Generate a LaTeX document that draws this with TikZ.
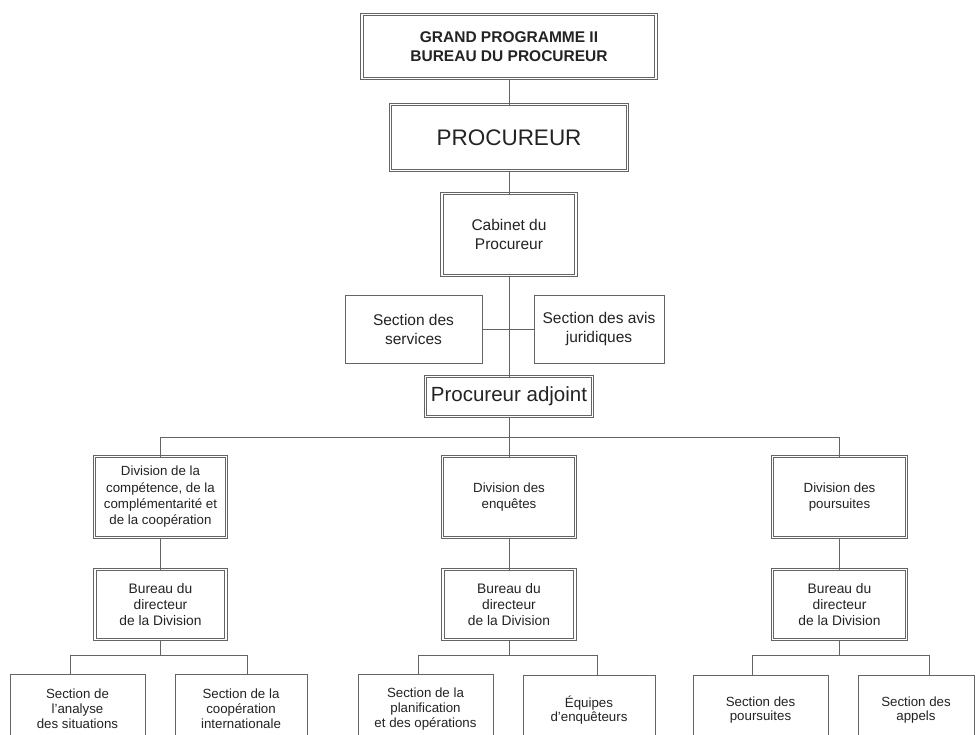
\documentclass[tikz,border=0pt]{standalone}
\usepackage{fontspec}
\setmainfont{Liberation Sans}
\definecolor{linec}{RGB}{100,100,100}
\definecolor{txtc}{RGB}{35,35,35}
\begin{document}
\begin{tikzpicture}[x=1pt,y=-1pt,
  every node/.style={text=txtc, align=center, inner sep=0pt, outer sep=0pt},
  dbox/.style={draw=linec, double=white, double distance=1.5pt, line width=0.85pt, rectangle},
  sbox/.style={draw=linec, line width=0.9pt, rectangle},
  conn/.style={draw=linec, line width=1pt},
  fbig/.style={font=\fontsize{22.5}{26}\selectfont},
  ftop/.style={font=\fontsize{15.5}{19}\selectfont\bfseries},
  fmid/.style={font=\fontsize{15.5}{19}\selectfont},
  fadj/.style={font=\fontsize{20.5}{24}\selectfont},
  fdiv/.style={font=\fontsize{13.3}{16.3}\selectfont},
  fbur/.style={font=\fontsize{13.8}{16}\selectfont},
  fbot/.style={font=\fontsize{13.3}{14.8}\selectfont}
]
\useasboundingbox (0,0) rectangle (976,734);
\clip (0,0) rectangle (976,734);
\fill[white] (0,0) rectangle (976,734);

% top levels
\node[dbox, ftop, minimum width=294, minimum height=64] (top) at (509,46.5) {GRAND PROGRAMME II\\BUREAU DU PROCUREUR};
\node[dbox, fbig, minimum width=237, minimum height=66] (proc) at (509,137.5) {PROCUREUR};
\node[dbox, fmid, minimum width=134, minimum height=82] (cab) at (509,234.5) {Cabinet du\\Procureur};
\node[sbox, fmid, minimum width=137, minimum height=68] (serv) at (413.5,329) {Section des\\services};
\node[sbox, fmid, minimum width=130, minimum height=68] (avis) at (599,329) {Section des avis\\juridiques};
\node[dbox, fadj, minimum width=167, minimum height=40] (adj) at (509,396.5) {Procureur adjoint};

% divisions
\node[dbox, fdiv, minimum width=132, minimum height=81] (ldiv) at (160.5,497) {Division de la\\compétence, de la\\complémentarité et\\de la coopération};
\node[dbox, fdiv, minimum width=133, minimum height=81] (mdiv) at (509,497) {Division des\\enquêtes};
\node[dbox, fdiv, minimum width=134, minimum height=81] (rdiv) at (839.5,497) {Division des\\poursuites};

% bureaux
\node[dbox, fbur, minimum width=131, minimum height=70] (lbur) at (160.5,604.5) {Bureau du\\directeur\\de la Division};
\node[dbox, fbur, minimum width=132, minimum height=70] (mbur) at (509,604.5) {Bureau du\\directeur\\de la Division};
\node[dbox, fbur, minimum width=134, minimum height=70] (rbur) at (839.5,604.5) {Bureau du\\directeur\\de la Division};

% sections
\node[sbox, fbot, minimum width=135, minimum height=70] (lsa) at (77.5,709) {Section de\\l'analyse\\des situations};
\node[sbox, fbot, minimum width=132, minimum height=70] (lsb) at (241,709) {Section de la\\coopération\\internationale};
\node[sbox, fbot, minimum width=135, minimum height=70] (msa) at (425.5,709) {Section de la\\planification\\et des opérations};
\node[sbox, fbot, minimum width=132, minimum height=70] (msb) at (589,710) {Équipes\\d'enquêteurs};
\node[sbox, fbot, minimum width=135, minimum height=70] (rsa) at (760.5,710) {Section des\\poursuites};
\node[sbox, fbot, minimum width=116, minimum height=70] (rsb) at (916,710) {Section des\\appels};

% connectors
\draw[conn] (top) -- (proc);
\draw[conn] (proc) -- (cab);
\draw[conn] (cab) -- (adj);
\draw[conn] (serv.east) -- (avis.west);

\coordinate (hbar) at (509,437);
\draw[conn] (adj.south) -- (mdiv.north);
\draw[conn] (ldiv.north) -- (ldiv.north |- hbar) -- (rdiv.north |- hbar) -- (rdiv.north);

\draw[conn] (ldiv) -- (lbur);
\draw[conn] (mdiv) -- (mbur);
\draw[conn] (rdiv) -- (rbur);

\coordinate (la) at (70,655);
\coordinate (lb) at (247,655);
\coordinate (ma) at (418,655);
\coordinate (mb) at (597,655);
\coordinate (ra) at (752,655);
\coordinate (rb) at (929,655);

\draw[conn] (lbur.south) -- (lbur.south |- la);
\draw[conn] (la |- lsa.north) -- (la) -- (lb) -- (lb |- lsb.north);
\draw[conn] (mbur.south) -- (mbur.south |- ma);
\draw[conn] (ma |- msa.north) -- (ma) -- (mb) -- (mb |- msb.north);
\draw[conn] (rbur.south) -- (rbur.south |- ra);
\draw[conn] (ra |- rsa.north) -- (ra) -- (rb) -- (rb |- rsb.north);
\end{tikzpicture}
\end{document}
